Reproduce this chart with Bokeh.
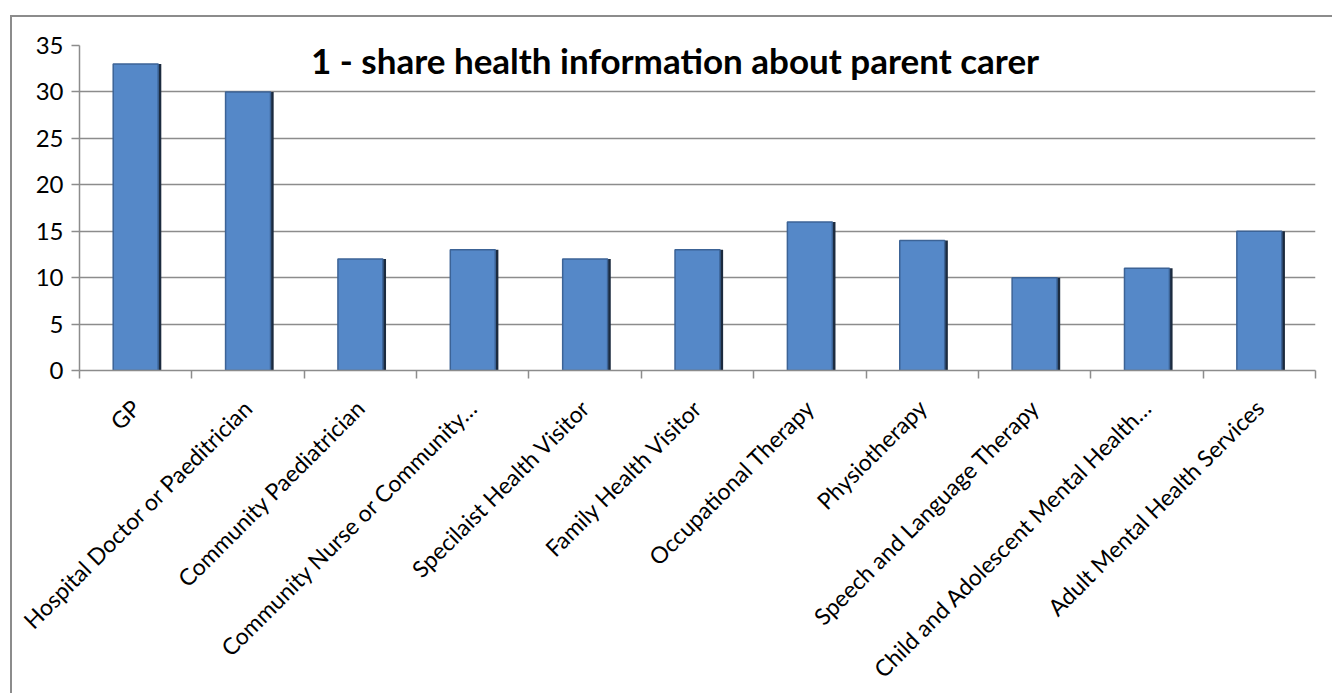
from math import pi
from bokeh.plotting import figure
from bokeh.models import (Range1d, LinearAxis, FixedTicker, Label, ColumnDataSource)
from bokeh.embed import file_html
from bokeh.resources import INLINE

categories = ["GP", "Hospital Doctor or Paeditrician", "Community Paediatrician",
              "Community Nurse or Community\u2026", "Specilaist Health Visitor",
              "Family Health Visitor", "Occupational Therapy", "Physiotherapy",
              "Speech and Language Therapy", "Child and Adolescent Mental Health\u2026",
              "Adult Mental Health Services"]
values = [33, 30, 12, 13, 12, 13, 16, 14, 10, 11, 15]
y_ticks = [0, 5, 10, 15, 20, 25, 30, 35]
title_text = "1 - share health information about parent carer"

n = len(categories)
centers = [i + 0.5 for i in range(n)]
src = ColumnDataSource(dict(x=centers, xs=[c + 0.028 for c in centers], top=values))

GRID = "#8c8c8c"
FONT = "Lato"

p = figure(width=1322, height=678, output_backend="svg", toolbar_location=None,
           x_range=Range1d(0, n), y_range=Range1d(0, 35),
           x_axis_location=None, y_axis_location="left",
           min_border_left=67, min_border_top=28, min_border_right=19, min_border_bottom=325,
           margin=(15, 0, 0, 10),
           styles={"border-top": "2px solid #8c8c8c", "border-left": "2px solid #8c8c8c"})
p.outline_line_color = None
p.background_fill_color = "white"
p.border_fill_color = "white"

# grid
p.xgrid.visible = False
p.ygrid.ticker = FixedTicker(ticks=y_ticks)
p.ygrid.grid_line_color = GRID
p.ygrid.grid_line_width = 1.5

# y axis
ya = p.yaxis[0]
ya.ticker = FixedTicker(ticks=y_ticks)
ya.axis_line_color = GRID
ya.axis_line_width = 1.5
ya.major_tick_line_color = GRID
ya.major_tick_line_width = 1.5
ya.major_tick_out = 8
ya.major_tick_in = 0
ya.minor_tick_line_color = None
ya.major_label_standoff = 8
ya.major_label_text_font = FONT
ya.major_label_text_font_size = "24px"
ya.major_label_text_color = "black"

# x axis: tick marks at category boundaries
xa1 = LinearAxis(ticker=FixedTicker(ticks=list(range(n + 1))),
                 major_label_overrides={i: "" for i in range(n + 1)},
                 major_label_text_font_size="0px", major_label_standoff=0,
                 axis_line_color=GRID, axis_line_width=1.5,
                 major_tick_line_color=GRID, major_tick_line_width=1.5,
                 major_tick_out=8, major_tick_in=0, minor_tick_out=0, minor_tick_in=0,
                 minor_tick_line_color=None, axis_label_standoff=0)
p.add_layout(xa1, "below")

# x axis: labels at category centers
xa2 = LinearAxis(ticker=FixedTicker(ticks=centers),
                 major_label_overrides={c: lab for c, lab in zip(centers, categories)},
                 major_label_orientation=pi / 4, major_label_standoff=25,
                 major_label_text_font=FONT, major_label_text_font_size="23px",
                 major_label_text_color="black",
                 axis_line_color=None, major_tick_line_color=None,
                 major_tick_out=0, major_tick_in=0, minor_tick_out=0, minor_tick_in=0,
                 minor_tick_line_color=None, axis_label_standoff=0)
p.add_layout(xa2, "below")

# bars: dark shadow then main bar
p.vbar(x="xs", top="top", bottom=0, width=0.4, source=src,
       fill_color="#1c2b3f", line_color=None)
p.vbar(x="x", top="top", bottom=0, width=0.4, source=src,
       fill_color="#5588c8", line_color="#3c6396", line_width=1.5)

p.add_layout(Label(x=5.3, y=33.4, text=title_text, text_align="center",
                   text_baseline="alphabetic", text_font=FONT, text_font_size="35px",
                   text_font_style="bold", text_color="black"))

open("out.html", "w").write(file_html(p, INLINE))
